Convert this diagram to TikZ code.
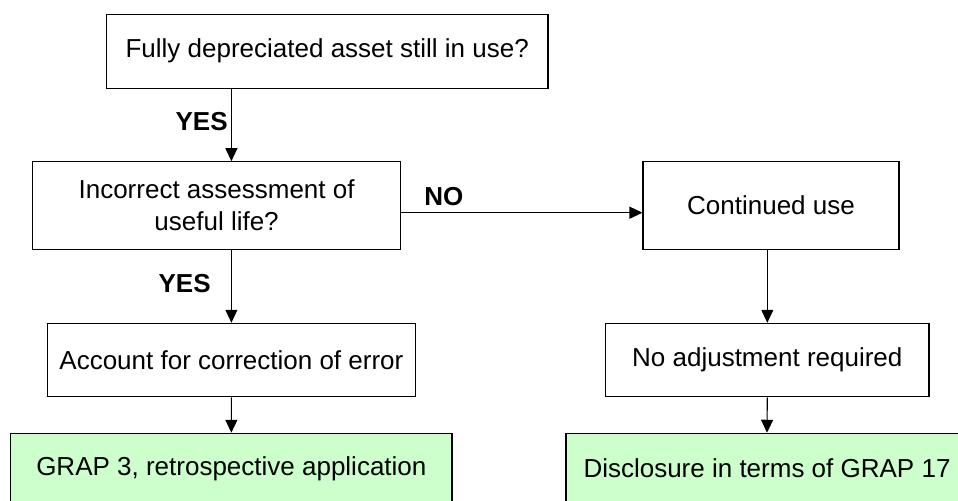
\documentclass[tikz,border=0pt]{standalone}
\usepackage{fontspec}
\setmainfont{Liberation Sans}
\usetikzlibrary{arrows.meta}
\definecolor{boxgreen}{HTML}{CCFFCC}
\tikzset{
  x=0.5pt, y=-0.5pt,
  box/.style={draw=black, line width=0.55pt, rectangle, inner sep=0pt, align=center,
    font=\fontsize{13}{16}\selectfont, fill=white},
  greenbox/.style={box, fill=boxgreen},
  lbl/.style={font=\fontsize{13}{16}\selectfont\bfseries, inner sep=0pt},
  arr/.style={line width=0.55pt, -{Triangle[length=6.5pt,width=6pt]}}
}
\begin{document}
\begin{tikzpicture}
\useasboundingbox (0,0) rectangle (958,500);
\clip (0,0) rectangle (958,500);
\fill[white] (0,0) rectangle (958,500);

\node[box, minimum width=220.75pt, minimum height=36.85pt] (b1) at (327.2,51.2) {Fully depreciated asset still in use?};
\node[box, minimum width=184pt, minimum height=44pt] (b2) at (216.6,205.7) {Incorrect assessment of\\useful life?};
\node[box, minimum width=128pt, minimum height=43.8pt] (b3) at (771,205.5) {Continued use};
\node[box, minimum width=184.1pt, minimum height=36.7pt] (b4) at (231.4,360) {Account for correction of error};
\node[box, minimum width=161.65pt, minimum height=36.7pt] (b5) at (767.3,360) {No adjustment required};
\node[greenbox, minimum width=220.65pt, minimum height=35pt] (g1) at (231.35,468.3) {GRAP 3, retrospective application};
\node[greenbox, minimum width=201pt, minimum height=35pt] (g2) at (767,468.3) {Disclosure in terms of GRAP 17};

\draw[arr] (b1.south -| b4.north) -- (b2.north -| b4.north);
\draw[arr] (b2.south -| b4.north) -- (b4.north);
\draw[arr] (b4.south) -- (g1.north);
\draw[arr] ([yshift=-3.5pt]b2.east) -- ([yshift=-3.5pt]b2.east -| b3.west);
\draw[arr] (b3.south -| b5.north) -- (b5.north);
\draw[arr] (b5.south) -- (g2.north);

\node[lbl, anchor=east] (yes1) at (228,122) {YES};
\node[lbl, anchor=east] (yes2) at (211,284) {YES};
\node[lbl, anchor=west] (no) at (424,197) {NO};
\end{tikzpicture}
\end{document}
